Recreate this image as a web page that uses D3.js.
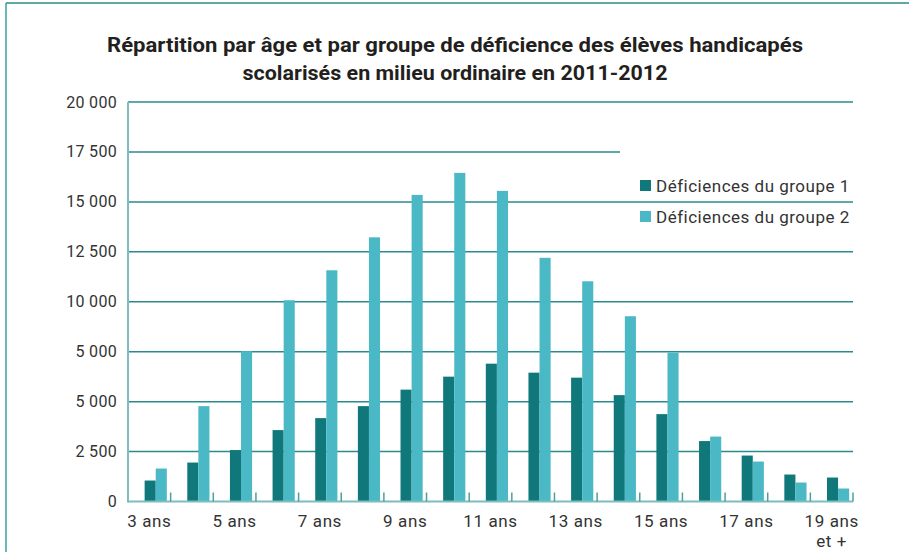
<!DOCTYPE html>
<html>
<head>
<meta charset="utf-8">
<script src="https://cdn.jsdelivr.net/npm/d3@7"></script>
<style>
  body { margin:0; background:#fff; }
  text { font-family: Roboto, "DejaVu Sans", sans-serif; fill:#333; }
</style>
</head>
<body>
<svg id="Vis" width="909" height="552"></svg>
<script>

// ages (one bar pair per age)
var categories = ["3 ans","4 ans","5 ans","6 ans","7 ans","8 ans","9 ans","10 ans","11 ans",
                  "12 ans","13 ans","14 ans","15 ans","16 ans","17 ans","18 ans","19 ans et +"];
var shownAges = ["3 ans","5 ans","7 ans","9 ans","11 ans","13 ans","15 ans","17 ans","19 ans et +"];

var groupe1 = [1050,1950,2575,3575,4175,4775,5600,6250,6900,6450,6200,5325,4375,3025,2300,1350,1200];
var groupe2 = [1650,4775,7525,10075,11575,13225,15350,16450,15550,12200,11025,9275,7450,3250,2000,950,650];

var seriesNames = ["Déficiences du groupe 1","Déficiences du groupe 2"];
var seriesColors = ["#10787b","#4bb8c6"];

var yTicks = [0,2500,5000,7500,10000,12500,15000,17500,20000];
// labels as printed in the source (7 500 is printed "5 000")
var yTickLabels = ["0","2 500","5 000","5 000","10 000","12 500","15 000","17 500","20 000"];

var titleLines = ["Répartition par âge et par groupe de déficience des élèves handicapés",
                  "scolarisés en milieu ordinaire en 2011-2012"];

var svg = d3.select("#Vis");
var gridColor = "#2b8a8c";

// frame (top + left)
svg.append("line").attr("x1",6).attr("x2",909).attr("y1",3).attr("y2",3)
   .attr("stroke",gridColor).attr("stroke-width",1.5);
svg.append("line").attr("x1",6).attr("x2",6).attr("y1",3).attr("y2",552)
   .attr("stroke","#3aa0a3").attr("stroke-width",1.5);

// title
svg.append("g").selectAll("text").data(titleLines).enter().append("text")
   .attr("x",455)
   .attr("y",function(d,i){ return 52 + i*28; })
   .attr("text-anchor","middle")
   .attr("font-size",20)
   .attr("font-weight","bold")
   .attr("textLength",function(d,i){ return i==0 ? 696 : 425; })
   .attr("lengthAdjust","spacingAndGlyphs")
   .style("fill","#231f20")
   .text(function(d){ return d; });

var plotLeft = 128, plotRight = 853, plotTop = 102, plotBottom = 501.5;

var x = d3.scaleBand().domain(categories).range([plotLeft,plotRight]).padding(0);
var y = d3.scaleLinear().domain([0,20000]).range([plotBottom,plotTop]);
var bw = x.bandwidth();

// grid lines
svg.append("g").selectAll("line").data(yTicks.slice(1)).enter().append("line")
   .attr("x1",plotLeft)
   .attr("x2",function(d){ return d==17500 ? 620 : plotRight; })
   .attr("y1",function(d){ return y(d); })
   .attr("y2",function(d){ return y(d); })
   .attr("stroke",gridColor).attr("stroke-width",1.5);

// y labels
svg.append("g").selectAll("text").data(yTicks).enter().append("text")
   .attr("x",117)
   .attr("y",function(d){ return y(d)+5.5; })
   .attr("text-anchor","end")
   .attr("font-size",16)
   .attr("letter-spacing",0.3)
   .text(function(d,i){ return yTickLabels[i]; });

// bars
var gBars = svg.append("g");
[groupe1,groupe2].forEach(function(vals,s){
  gBars.selectAll(".bar"+s).data(vals).enter().append("rect")
     .attr("class","bar"+s)
     .attr("x",function(d,i){ return x(categories[i]) + bw*(0.39 + s*0.26); })
     .attr("width",bw*0.26)
     .attr("y",function(d){ return y(d); })
     .attr("height",function(d){ return plotBottom - y(d); })
     .style("fill",seriesColors[s]);
});

// axes lines
svg.append("line").attr("x1",plotLeft).attr("x2",plotLeft).attr("y1",plotTop).attr("y2",plotBottom+1)
   .attr("stroke","#7dbdbf").attr("stroke-width",2);
svg.append("line").attr("x1",plotLeft).attr("x2",plotRight).attr("y1",plotBottom).attr("y2",plotBottom)
   .attr("stroke","#7dbdbf").attr("stroke-width",2);

// small ticks between ages
svg.append("g").selectAll("line").data(categories).enter().append("line")
   .attr("x1",function(d){ return x(d)+bw; })
   .attr("x2",function(d){ return x(d)+bw; })
   .attr("y1",plotBottom-9).attr("y2",plotBottom)
   .attr("stroke","#4e9ea0").attr("stroke-width",1.5);

// x labels
var xl = svg.append("g").selectAll("text").data(shownAges).enter().append("text")
   .attr("x",function(d){ return x(d)+bw/2; })
   .attr("y",527)
   .attr("text-anchor","middle")
   .attr("font-size",17)
   .attr("letter-spacing",0.6);
xl.each(function(d){
  var t = d3.select(this);
  if(d.indexOf(" et +")>0){
    t.append("tspan").attr("x",x(d)+bw/2).text(d.replace(" et +",""));
    t.append("tspan").attr("x",x(d)+bw/2).attr("dy",20).text("et +");
  } else {
    t.text(d);
  }
});

// legend
var gLeg = svg.append("g").attr("transform","translate(640,186)");
seriesNames.forEach(function(n,i){
  gLeg.append("rect").attr("x",0).attr("y",i*31-6).attr("width",11).attr("height",11)
      .style("fill",seriesColors[i]);
  gLeg.append("text").attr("x",16).attr("y",i*31+6).attr("font-size",17)
      .attr("letter-spacing",0.5).text(n);
});

</script>
</body>
</html>
